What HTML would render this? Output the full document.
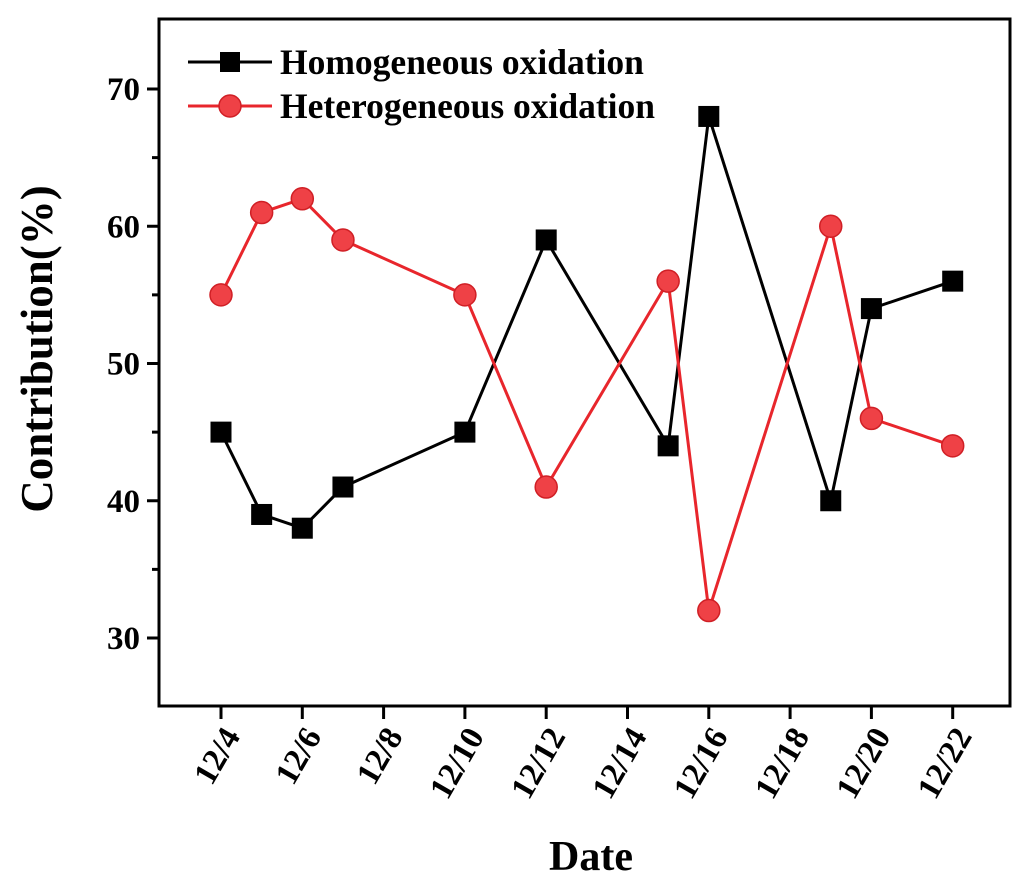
<!DOCTYPE html>
<html><head><meta charset="utf-8"><style>
body{margin:0;background:#fff;}
svg text{font-family:"Liberation Serif",serif;font-weight:bold;fill:#000;}
</style></head><body>
<svg id="chart" width="1033" height="890" viewBox="0 0 1033 890" xmlns="http://www.w3.org/2000/svg">
<g id="plot"></g>
</svg>
<script>
const days = [4,5,6,7,10,12,15,16,19,20,22];
const homogeneous = [45,39,38,41,45,59,44,68,40,54,56];
const heterogeneous = [55,61,62,59,55,41,56,32,60,46,44];
const xTickDays = [4,6,8,10,12,14,16,18,20,22];
const yTicks = [30,40,50,60,70];
const yMinor = [35,45,55,65];

const L=159,R=1010,T=19,B=706;
const x = d => 221 + (d-4)*40.65;
const y = v => 638 - (v-30)*13.725;
const g=document.getElementById('plot');
const NS='http://www.w3.org/2000/svg';
function mk(tag,a,parent){const e=document.createElementNS(NS,tag);for(const k in a)e.setAttribute(k,a[k]);(parent||g).appendChild(e);return e;}

const frame=mk('rect',{x:L,y:T,width:R-L,height:B-T,fill:'none',stroke:'#000','stroke-width':3});



yTicks.forEach(v=>{
  const t=mk('line',{x1:147,x2:L,y1:y(v),y2:y(v),stroke:'#000','stroke-width':3});
  
  
  const l=mk('text',{x:140,y:y(v)+11,'text-anchor':'end','font-size':33});
  l.textContent=v;
  
  
});
yMinor.forEach(v=>{
  const t=mk('line',{x1:152,x2:L,y1:y(v),y2:y(v),stroke:'#000','stroke-width':3});
  
  
});
xTickDays.forEach(d=>{
  const t=mk('line',{x1:x(d),x2:x(d),y1:B,y2:B+13,stroke:'#000','stroke-width':3});
  
  
  const l=mk('text',{x:0,y:0,'text-anchor':'end','font-size':33,transform:`translate(${x(d)+20},${B+30}) rotate(-60)`});
  l.textContent='12/'+d;
  
  
});

const xt=mk('text',{x:591,y:870,'text-anchor':'middle','font-size':42});
xt.textContent='Date';


const yt=mk('text',{x:0,y:0,'text-anchor':'middle','font-size':45,transform:'translate(52,349) rotate(-90)'});
yt.textContent='Contribution(%)';



function series(vals,color,fill,stroke,shape,name){
  const pts=days.map((d,i)=>x(d)+','+y(vals[i])).join(' ');
  const pl=mk('polyline',{points:pts,fill:'none',stroke:color,'stroke-width':3});
  
  
  days.forEach((d,i)=>{
    let m;
    if(shape==='sq') m=mk('rect',{x:x(d)-10,y:y(vals[i])-10,width:20,height:20,fill:fill,stroke:stroke,'stroke-width':1});
    else m=mk('circle',{cx:x(d),cy:y(vals[i]),r:11,fill:fill,stroke:stroke,'stroke-width':1.5});
    
    
  });
}
series(homogeneous,'#000','#000','#000','sq','homogeneous');
series(heterogeneous,'#e8262c','#ef4146','#d01f25','ci','heterogeneous');

const lg=mk('g',{});


const e1=mk('g',{},lg);


mk('line',{x1:188,x2:272,y1:62,y2:62,stroke:'#000','stroke-width':3},e1);
mk('rect',{x:220,y:52,width:20,height:20,fill:'#000'},e1);
const t1=mk('text',{x:280,y:74,'font-size':35.5},e1);t1.textContent='Homogeneous oxidation';
const e2=mk('g',{},lg);


mk('line',{x1:188,x2:272,y1:106,y2:106,stroke:'#e8262c','stroke-width':3},e2);
mk('circle',{cx:230,cy:106,r:11,fill:'#ef4146',stroke:'#d01f25','stroke-width':1.5},e2);
const t2=mk('text',{x:280,y:118,'font-size':35.5},e2);t2.textContent='Heterogeneous oxidation';
</script>
</body></html>
